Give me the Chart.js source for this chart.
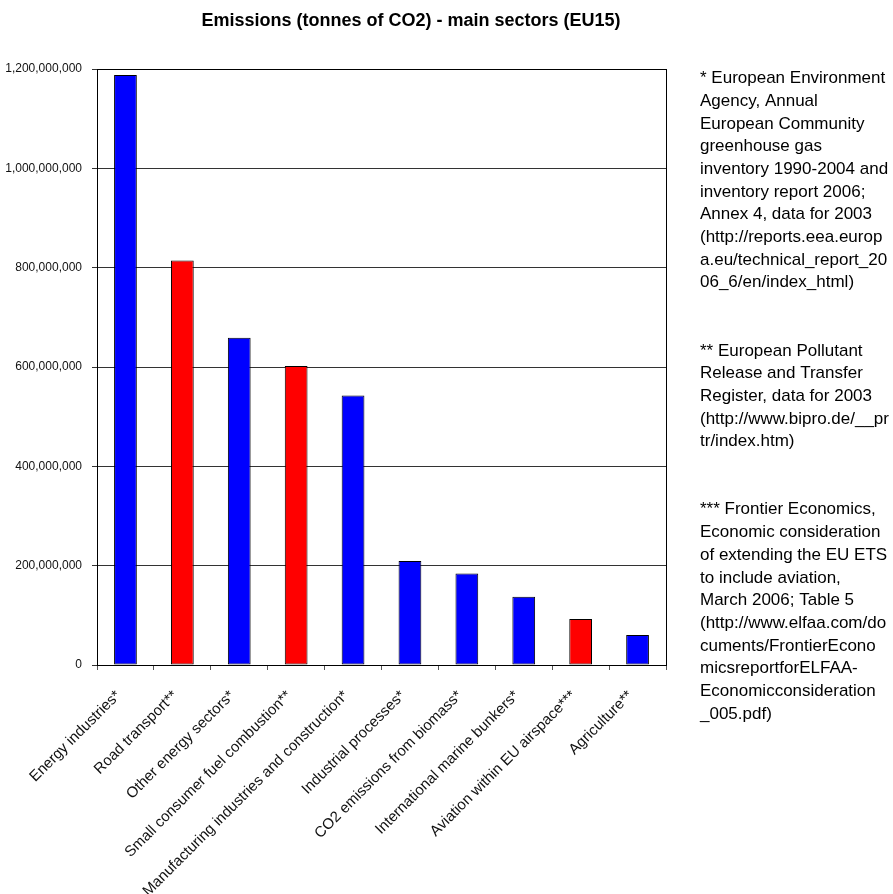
<!DOCTYPE html>
<html>
<head>
<meta charset="utf-8">
<script src="https://cdn.jsdelivr.net/npm/chart.js@4.4.1/dist/chart.umd.min.js"></script>
<style>
    html, body { margin: 0; padding: 0; background: #fff; }
    #chart { display: block; }
</style>
</head>
<body>
<canvas id="chart" width="893" height="894"></canvas>
<script>
// Sectors and CO2 emissions (tonnes), EU15, 2003
const sectors = [
    'Energy industries*',
    'Road transport**',
    'Other energy sectors*',
    'Small consumer fuel combustion**',
    'Manufacturing industries and construction*',
    'Industrial processes*',
    'CO2 emissions from biomass*',
    'International marine bunkers*',
    'Aviation within EU airspace***',
    'Agriculture**'
];
const emissions = [1188000000, 814500000, 659000000, 602000000, 542500000, 209500000, 184000000, 137600000, 92700000, 60400000];
const barColors = ['#0000FF', '#FF0000', '#0000FF', '#FF0000', '#0000FF', '#0000FF', '#0000FF', '#0000FF', '#FF0000', '#0000FF'];
const yMin = 0;
const yMax = 1200000000;
const yStep = 200000000;

const chartTitle = 'Emissions (tonnes of CO2) - main sectors (EU15)';

// source notes, blank entries keep the gaps between the three blocks
const sourceNotes = [
    '* European Environment',
    'Agency, Annual',
    'European Community',
    'greenhouse gas',
    'inventory 1990-2004 and',
    'inventory report 2006;',
    'Annex 4, data for 2003',
    '(http://reports.eea.europ',
    'a.eu/technical_report_20',
    '06_6/en/index_html)',
    '',
    '',
    '** European Pollutant',
    'Release and Transfer',
    'Register, data for 2003',
    '(http://www.bipro.de/__pr',
    'tr/index.htm)',
    '',
    '',
    '*** Frontier Economics,',
    'Economic consideration',
    'of extending the EU ETS',
    'to include aviation,',
    'March 2006; Table 5',
    '(http://www.elfaa.com/do',
    'cuments/FrontierEcono',
    'micsreportforELFAA-',
    'Economicconsideration',
    '_005.pdf)'
];

const FONT = '"Liberation Sans", Arial, sans-serif';

// title, frame around the plot and the notes column
const decorations = {
    id: 'decorations',
    afterDraw(chart) {
        const ctx = chart.ctx;
        const area = chart.chartArea;
        ctx.save();

        ctx.strokeStyle = '#000';
        ctx.lineWidth = 1;
        ctx.strokeRect(Math.round(area.left) + 0.5, Math.round(area.top) + 0.5,
            Math.round(area.right - area.left), Math.round(area.bottom - area.top));

        ctx.fillStyle = '#000';
        ctx.font = 'bold 18px ' + FONT;
        ctx.textAlign = 'center';
        ctx.textBaseline = 'middle';
        ctx.fillText(chartTitle, 411, 21);

        ctx.font = '17px ' + FONT;
        ctx.textAlign = 'left';
        sourceNotes.forEach((line, i) => {
            if (line) ctx.fillText(line, 700, 78.5 + i * 22.7);
        });
        ctx.restore();
    }
};

new Chart(document.getElementById('chart').getContext('2d'), {
    type: 'bar',
    data: {
        labels: sectors,
        datasets: [{
            data: emissions,
            backgroundColor: barColors,
            borderColor: '#000',
            borderWidth: 1,
            borderSkipped: false,
            categoryPercentage: 1,
            barPercentage: 0.4
        }]
    },
    options: {
        responsive: false,
        animation: false,
        layout: { padding: { top: 69, right: 227, left: 0, bottom: 0 } },
        plugins: {
            legend: { display: false },
            title: { display: false },
            tooltip: { enabled: false }
        },
        scales: {
            x: {
                grid: { drawOnChartArea: false, tickLength: 5, color: '#555' },
                border: { color: '#000', width: 1 },
                ticks: {
                    autoSkip: false,
                    minRotation: 45,
                    maxRotation: 45,
                    padding: 17,
                    labelOffset: -7,
                    color: '#111',
                    font: { size: 15, family: FONT }
                },
                afterFit(scale) { scale.height = 229; }
            },
            y: {
                min: yMin,
                max: yMax,
                grid: { color: '#333', tickLength: 5 },
                border: { color: '#000', width: 1 },
                ticks: {
                    stepSize: yStep,
                    padding: 10,
                    color: '#111',
                    font: { size: 12, family: FONT },
                    callback: v => v.toLocaleString('en-US')
                },
                afterFit(scale) { scale.width = 97; }
            }
        }
    },
    plugins: [decorations]
});
</script>
</body>
</html>
